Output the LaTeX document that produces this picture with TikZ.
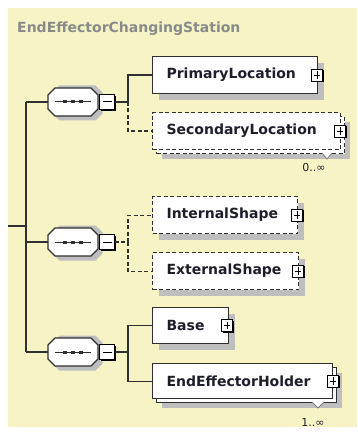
\documentclass[tikz,border=0pt]{standalone}
\usepackage{fontspec}
\setmainfont{DejaVu Sans}
\usetikzlibrary{shadows}
\definecolor{panel}{HTML}{F6F4C4}
\definecolor{shadowc}{HTML}{BEBEBE}
\definecolor{titlec}{HTML}{8A8A8A}
\definecolor{textc}{HTML}{1E1E2A}
\definecolor{linec}{HTML}{303030}
\begin{document}
\begin{tikzpicture}[x=1pt,y=-1pt,
 conn/.style={draw=linec, line width=1.1pt},
 opt/.style={dash pattern=on 4pt off 2.5pt},
 gshadow/.style={drop shadow={shadow xshift=#1, shadow yshift=-#1, fill=shadowc, opacity=1}},
 elem/.style={draw=linec, fill=white, line width=1.1pt, anchor=north west, inner xsep=14pt, inner ysep=0pt, align=left, font=\fontsize{14}{16}\selectfont\bfseries, text=textc},
 pm/.style={draw=black, fill=white, line width=0.9pt, minimum width=11pt, minimum height=12pt, inner sep=0pt, drop shadow={shadow xshift=1.3pt, shadow yshift=-1.3pt, fill=black, opacity=1}},
 plusbox/.style={pm, path picture={\draw[line width=1pt] ([xshift=2.2pt]path picture bounding box.west) -- ([xshift=-2.2pt]path picture bounding box.east) ([yshift=-2.2pt]path picture bounding box.north) -- ([yshift=2.2pt]path picture bounding box.south);}},
 minusbox/.style={pm, minimum width=15pt, minimum height=15pt, path picture={\draw[line width=1pt] ([xshift=3pt]path picture bounding box.west) -- ([xshift=-3pt]path picture bounding box.east);}},
 octo/.style={draw=linec, fill=white, line width=1.1pt},
 compositor/.pic={
   \fill[shadowc] (-20.5,-9.5) -- (-13.5,-16.5) -- (22.5,-16.5) -- (29.5,-9.5) -- (29.5,11.5) -- (22.5,18.5) -- (-13.5,18.5) -- (-20.5,11.5) -- cycle;
   \draw[octo] (-25,-7) -- (-18,-14) -- (18,-14) -- (25,-7) -- (25,7) -- (18,14) -- (-18,14) -- (-25,7) -- cycle;
   \draw[linec, line width=1pt] (-18,0) -- (18,0);
   \foreach \dx in {-8,0,8} \fill[linec] (\dx-2,-1.5) rectangle (\dx+2,1.5);
   \node[inner sep=0pt, minimum width=50pt, minimum height=28pt] (-c) {};
 },
 mult/.style={font=\fontsize{11}{13}\selectfont, text=textc, inner sep=0pt},
 tri/.style={draw=gray, fill=white, line width=0.8pt}
]
\useasboundingbox (0,0) rectangle (357,438);
\fill[panel] (8,8) rectangle (357,427);
\node[anchor=base west, font=\fontsize{14}{16}\selectfont\bfseries, text=titlec, inner sep=0pt] (title) at (17,33) {EndEffectorChangingStation};

% compositors
\pic (s1) at (73,102) {compositor};
\node[minusbox] (m1) at (107,102) {};
\pic (s2) at (73,242) {compositor};
\node[minusbox] (m2) at (107,242) {};
\pic (s3) at (73,352) {compositor};
\node[minusbox] (m3) at (107,352) {};

% elements
\node[elem, gshadow=6pt, minimum width=165pt, minimum height=37pt, text width=137pt] (p) at (152,56) {PrimaryLocation};
\node[plusbox] (pp) at ([xshift=-1pt]p.east) {};

\node[elem, opt, gshadow=5pt, minimum width=188pt, minimum height=37pt, text width=160pt] (slb) at (156,116) {};
\node[elem, opt, minimum width=188pt, minimum height=37pt, text width=160pt] (sl) at (152,112) {SecondaryLocation};
\node[plusbox] (slp) at ([xshift=-1pt]sl.east) {};
\draw[tri] (322,153) -- (327,159) -- (332,153);
\node[mult] (slm) at (314,167) {0..∞};

\node[elem, opt, gshadow=6pt, minimum width=145pt, minimum height=37pt, text width=117pt] (is) at (152,196) {InternalShape};
\node[plusbox] (isp) at ([xshift=-1pt]is.east) {};
\node[elem, opt, gshadow=6pt, minimum width=146pt, minimum height=37pt, text width=118pt] (es) at (152,252) {ExternalShape};
\node[plusbox] (esp) at ([xshift=-1pt]es.east) {};

\node[elem, gshadow=6pt, minimum width=76pt, minimum height=36pt, text width=48pt] (b) at (152,307) {Base};
\node[plusbox] (bp) at ([xshift=-2pt]b.east) {};

\node[elem, gshadow=5pt, minimum width=180pt, minimum height=35pt, text width=152pt] (eb) at (156,367) {};
\node[elem, minimum width=180pt, minimum height=35pt, text width=152pt] (e) at (152,363) {EndEffectorHolder};
\node[plusbox] (ep) at ([xshift=0pt]e.east) {};
\draw[tri] (312,402) -- (318,408) -- (324,402);
\node[mult] (em) at (313,422) {1..∞};

% trunk
\coordinate (in) at (8,226);
\coordinate (tin) at (26,226);
\coordinate (t1) at (26,102);
\coordinate (t2) at (26,242);
\coordinate (t3) at (26,352);
\draw[conn] (in) -- (tin);
\draw[conn] (t1) -- (t3);
\draw[conn] (t1) -- (s1-c.west);
\draw[conn] (t2) -- (s2-c.west);
\draw[conn] (t3) -- (s3-c.west);

% branches
\coordinate (b1) at (128,102);
\coordinate (b2) at (128,242);
\coordinate (b3) at (128,352);
\draw[conn] (m1.east) -- (b1);
\draw[conn] (b1) |- (p.west);
\draw[conn, opt] (b1) |- (sl.west);
\draw[conn, opt] (m2.east) -- (b2);
\draw[conn, opt] (b2) |- (is.west);
\draw[conn, opt] (b2) |- (es.west);
\draw[conn] (m3.east) -- (b3);
\draw[conn] (b3) |- (b.west);
\draw[conn] (b3) |- (e.west);
\end{tikzpicture}
\end{document}
